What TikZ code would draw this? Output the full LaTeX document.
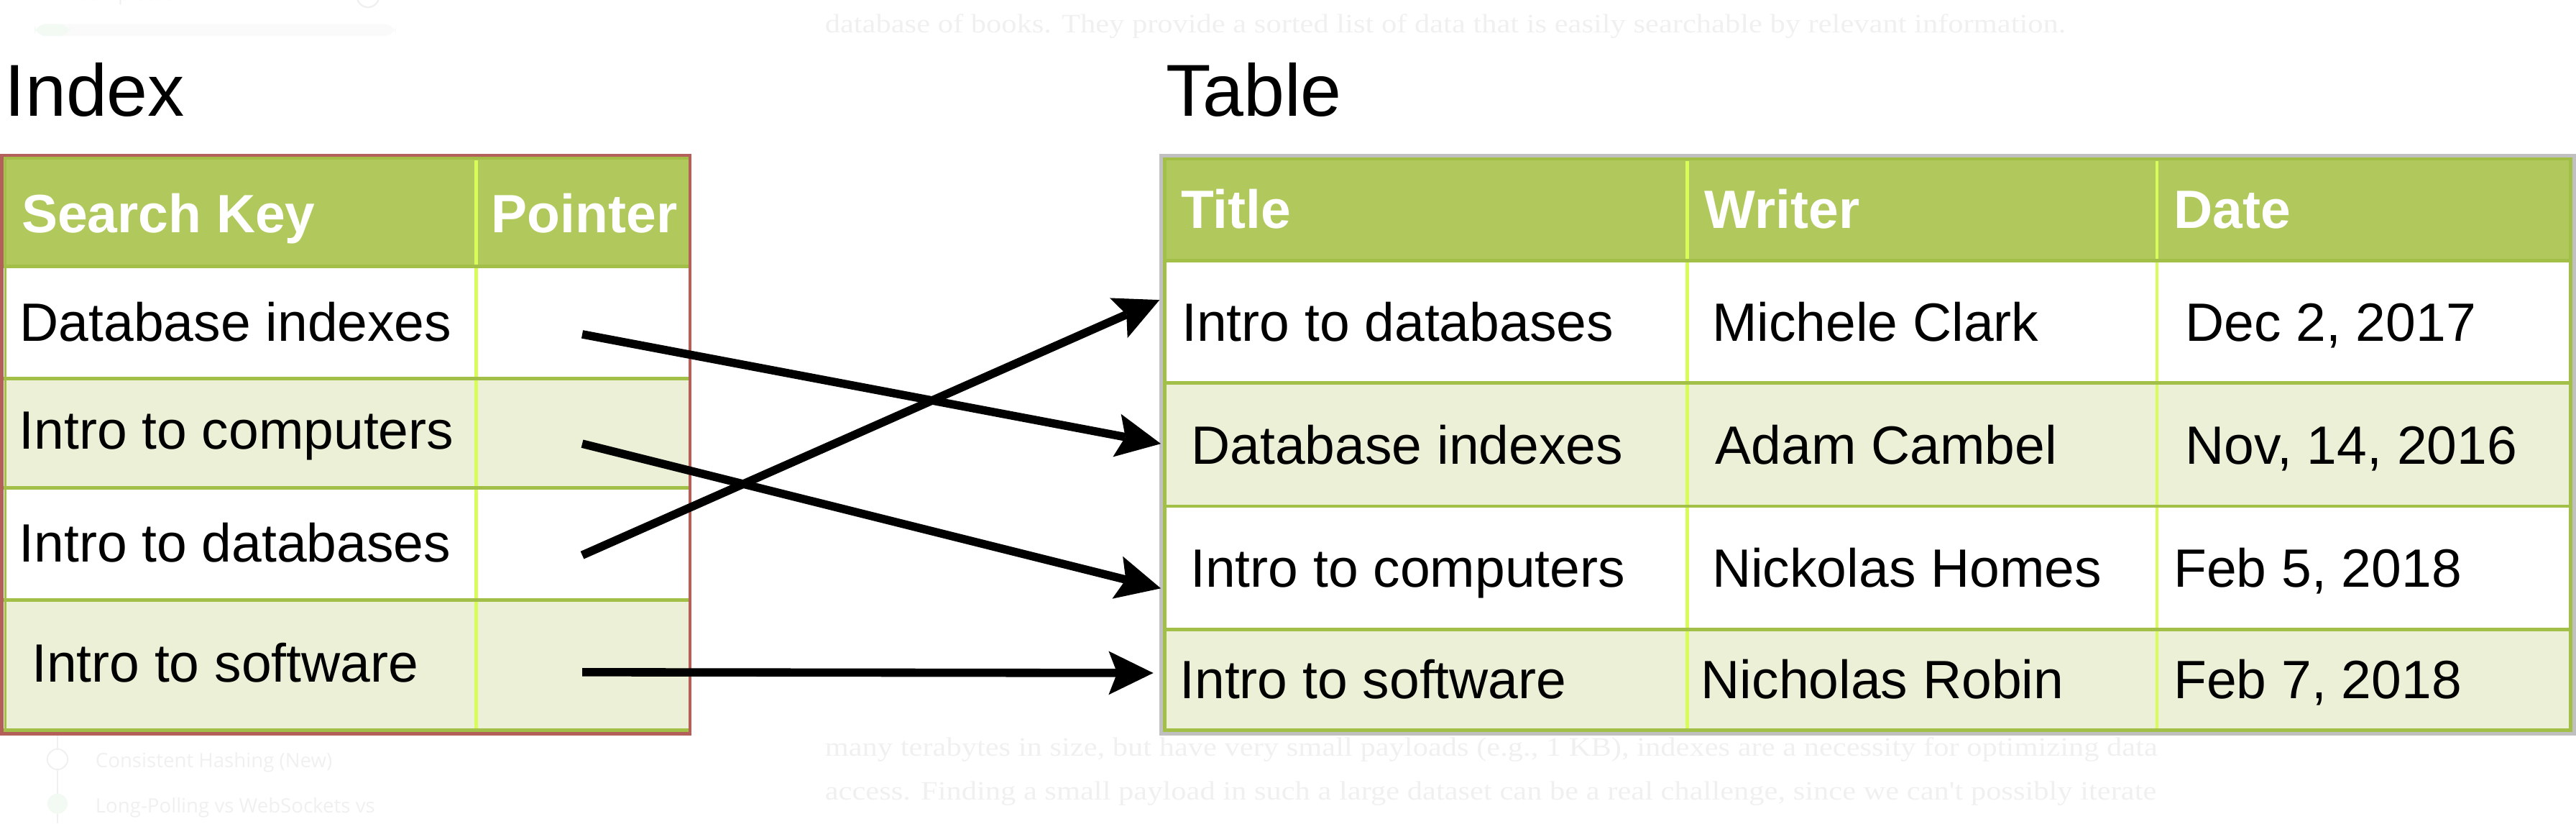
\documentclass[tikz,border=0pt]{standalone}
\usepackage{fontspec}
\setmainfont{Liberation Sans}
\newfontfamily\pageserif{Liberation Serif}
\newfontfamily\sidefont{Open Sans}
\usepackage{tikz}
\usetikzlibrary{positioning}
\usetikzlibrary{arrows.meta}

\definecolor{headgreen}{HTML}{B1C95C}
\definecolor{darkgreen}{HTML}{A3BE45}
\definecolor{rowgreen}{HTML}{EBF0D7}
\definecolor{linegreen}{HTML}{A2BF48}
\definecolor{limeline}{HTML}{D8FC58}
\definecolor{indexred}{HTML}{B3605A}
\definecolor{tablegrey}{HTML}{C0C0C0}
\definecolor{faint}{HTML}{F0F0F0}
\definecolor{fainter}{HTML}{FAFAFA}
\definecolor{faintgreen}{HTML}{F3FAF3}

\begin{document}
\begin{tikzpicture}[x=0.5mm, y=-0.5mm,
    cell/.style={anchor=base west, inner sep=0pt, font=\fontsize{46.7}{56}\selectfont},
    headcell/.style={cell, text=white, font=\fontsize{46.7}{56}\selectfont\bfseries},
    caption/.style={anchor=base west, inner sep=0pt, font=\fontsize{63.7}{76}\selectfont},
    pointer/.style={line width=7.2pt, -{Stealth[length=13.6mm, width=13.3mm, inset=2.6mm, line width=0pt]}},
    backtext/.style={anchor=base west, inner sep=0pt, text=faint},
    pagetext/.style={backtext, xscale=1.15, font=\pageserif\fontsize{23}{28}\selectfont}]

    \useasboundingbox (0,0) rectangle (1568,501);

    % page behind the figure
    \node[backtext, font=\sidefont\fontsize{17}{20}\selectfont] (done) at (21,0.3) {10\% completed};
    \fill[fainter, rounded corners=3.6mm] (21,14.6) rectangle (241,21.9);
    \fill[faintgreen, rounded corners=3.6mm] (21,14.6) rectangle (43,21.9);
    \draw[faint, line width=1.5pt] (224,-2.3) circle (6.7);
    \node[pagetext] (para1) at (502,19.7) {database of books. They provide a sorted list of data that is easily searchable by relevant information.};
    \node[pagetext] (para2) at (502,460) {many terabytes in size, but have very small payloads (e.g., 1 KB), indexes are a necessity for optimizing data};
    \node[pagetext] (para3) at (502,486.5) {access. Finding a small payload in such a large dataset can be a real challenge, since we can't possibly iterate};
    \draw[faint, line width=1.2pt] (35,447.5) -- (35,455.8) (35,468.2) -- (35,501);
    \draw[faint, line width=1.2pt] (35,462) circle (6.2);
    \fill[faintgreen] (35,489) circle (6.2);
    \node[backtext, font=\sidefont\fontsize{17.2}{21}\selectfont] (side1) at (58,467) {Consistent Hashing (New)};
    \node[backtext, font=\sidefont\fontsize{17.2}{21}\selectfont] (side2) at (58,494.4) {Long-Polling vs WebSockets vs};

    % index
    \fill[white] (1,94.5) rectangle (420,446.5);
    \fill[headgreen] (2,96.5) rectangle (419,162);
    \fill[rowgreen] (2,230.5) rectangle (419,297);
    \fill[rowgreen] (2,365) rectangle (419,445);
    \draw[limeline, line width=3pt] (290,97.5) -- (290,444);
    \draw[linegreen, line width=3.1pt] (2,162) -- (419,162) (2,230.5) -- (419,230.5)
        (2,297) -- (419,297) (2,365) -- (419,365);
    \draw[darkgreen, line width=2.4pt] (2,96.3) -- (419,96.3);
    \draw[linegreen, line width=3.1pt] (2,444.2) -- (419,444.2);
    \draw[linegreen, line width=2pt] (3.2,96.3) -- (3.2,444.2);
    \draw[indexred, line width=3pt] (1,94.5) rectangle (420,446.5);

    % table
    \fill[white] (706.6,94.6) rectangle (1566.9,446.4);
    \fill[headgreen] (708,96.8) rectangle (1566,158.5);
    \fill[rowgreen] (708,233) rectangle (1566,308);
    \fill[rowgreen] (708,383) rectangle (1566,444.2);
    \draw[limeline, line width=2.6pt] (1027,98) -- (1027,444) (1313,98) -- (1313,444);
    \draw[linegreen, line width=3.1pt] (708,158.5) -- (1566,158.5) (708,233) -- (1566,233)
        (708,308) -- (1566,308) (708,383) -- (1566,383);
    \draw[darkgreen, line width=2.6pt] (708,96.8) -- (1566,96.8);
    \draw[linegreen, line width=3.1pt] (708.8,96.8) -- (708.8,444.2) -- (1564.7,444.2) -- (1564.7,96.8);
    \draw[tablegrey, line width=3.1pt] (706.6,94.6) rectangle (1566.9,446.4);

    \node[caption] (indexcap) at (2.8,70.8) {Index};
    \node[caption] (tablecap) at (709.5,70.8) {Table};

    \node[headcell] (hkey) at (13,141.4) {Search Key};
    \node[headcell] (hptr) at (299,141.4) {Pointer};
    \node[cell] (k1) at (12,207.8) {Database indexes};
    \node[cell] (k2) at (11.5,273.4) {Intro to computers};
    \node[cell] (k3) at (11.5,342) {Intro to databases};
    \node[cell] (k4) at (19.2,414.8) {Intro to software};

    \node[headcell] (htitle) at (718.7,138.8) {Title};
    \node[headcell] (hwriter) at (1037.5,138.8) {Writer};
    \node[headcell] (hdate) at (1323.2,138.8) {Date};
    \node[cell] (t1) at (719.2,207.4) {Intro to databases};
    \node[cell] (w1) at (1042,207.4) {Michele Clark};
    \node[cell] (d1) at (1330,207.4) {Dec 2, 2017};
    \node[cell] (t2) at (725,282.2) {Database indexes};
    \node[cell] (w2) at (1044,282.2) {Adam Cambel};
    \node[cell] (d2) at (1330,282.2) {Nov, 14, 2016};
    \node[cell] (t3) at (724.5,357) {Intro to computers};
    \node[cell] (w3) at (1042,357) {Nickolas Homes};
    \node[cell] (d3) at (1323,357) {Feb 5, 2018};
    \node[cell] (t4) at (718,425.2) {Intro to software};
    \node[cell] (w4) at (1035.3,425.2) {Nicholas Robin};
    \node[cell] (d4) at (1323,425.2) {Feb 7, 2018};

    \coordinate (p1) at (354.4,203.4);
    \coordinate (p2) at (354.4,270);
    \coordinate (p3) at (354.4,337.8);
    \coordinate (p4) at (354.4,409);
    \coordinate (r1) at (705.8,182.5);
    \coordinate (r2) at (706.6,270);
    \coordinate (r3) at (706.6,358);
    \coordinate (r4) at (702,409.5);

    \draw[pointer] (p1) -- (r2);
    \draw[pointer] (p2) -- (r3);
    \draw[pointer] (p3) -- (r1);
    \draw[pointer] (p4) -- (r4);
\end{tikzpicture}
\end{document}
